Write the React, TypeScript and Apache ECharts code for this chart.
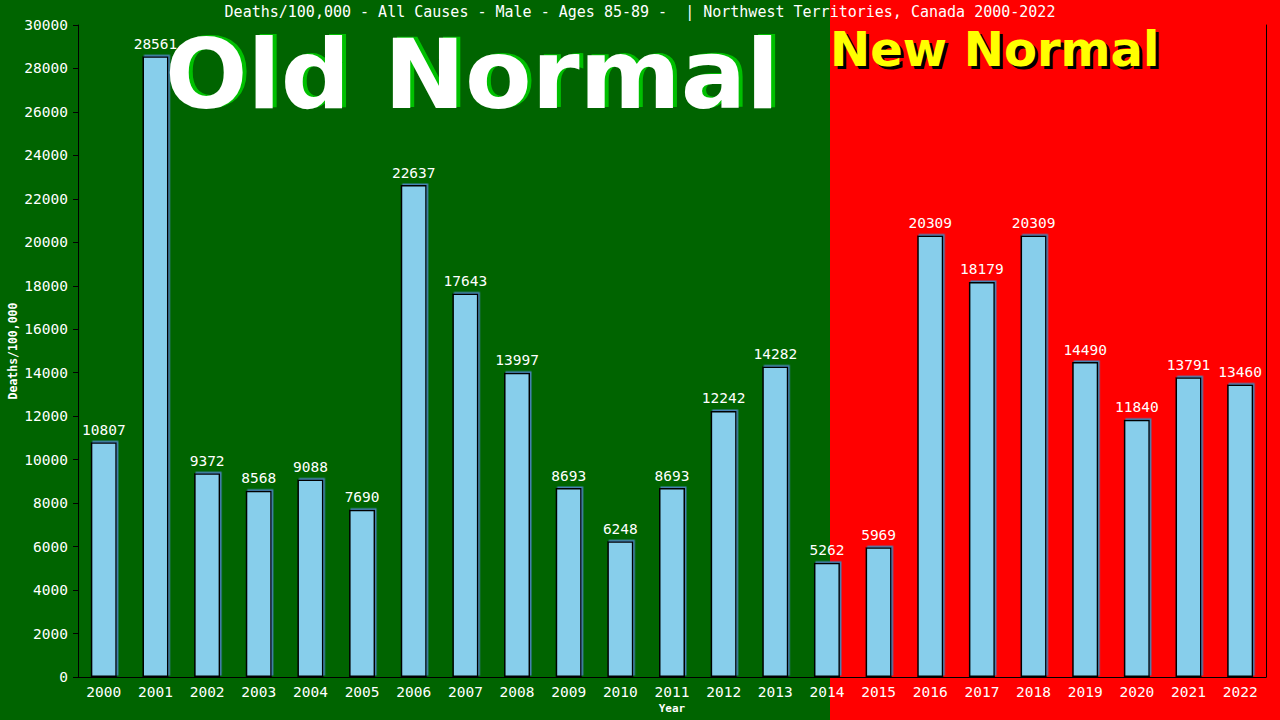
import React, { useEffect, useRef } from "react";
import * as echarts from "echarts";

const years = [
  "2000", "2001", "2002", "2003", "2004", "2005", "2006", "2007", "2008", "2009", "2010", "2011",
  "2012", "2013", "2014", "2015", "2016", "2017", "2018", "2019", "2020", "2021", "2022",
];
const deathsPer100k = [
  10807, 28561, 9372, 8568, 9088, 7690, 22637, 17643, 13997, 8693, 6248, 8693,
  12242, 14282, 5262, 5969, 20309, 18179, 20309, 14490, 11840, 13791, 13460,
];
const titleText =
  "Deaths/100,000 - All Causes - Male - Ages 85-89 -  | Northwest Territories, Canada 2000-2022";
const yAxisTitle = "Deaths/100,000";

const MONO = "'DejaVu Sans Mono', 'Liberation Mono', monospace";
const SANS = "'DejaVu Sans', Verdana, sans-serif";

export default function App() {
  const ref = useRef<HTMLDivElement>(null);

  useEffect(() => {
    if (!ref.current) return;
    const chart = echarts.init(ref.current, null, { renderer: "svg" });
    chart.setOption({
      animation: false,
      backgroundColor: "#006400",
      graphic: [
        { type: "rect", z: -10, left: 830, top: 0, shape: { width: 450, height: 720 }, style: { fill: "#ff0000" } },
        { type: "text", z: 100, left: "center", top: 4, style: { text: titleText, fill: "#ffffff", font: `15px ${MONO}` } },
        {
          type: "text",
          z: 100,
          x: 13,
          y: 351,
          rotation: Math.PI / 2,
          style: {
            text: yAxisTitle,
            fill: "#ffffff",
            font: `bold 11.5px ${MONO}`,
            align: "center",
            verticalAlign: "middle",
          },
        },
        { type: "text", z: 100, x: 169, y: 25, style: { text: "Old Normal", fill: "#00c000", font: `bold 97px ${SANS}` } },
        { type: "text", z: 101, x: 165, y: 26, style: { text: "Old Normal", fill: "#ffffff", font: `bold 97px ${SANS}` } },
        { type: "text", z: 100, x: 833, y: 28, style: { text: "New Normal", fill: "#000000", font: `bold 48px ${SANS}` } },
        { type: "text", z: 101, x: 830, y: 25, style: { text: "New Normal", fill: "#ffff00", font: `bold 48px ${SANS}` } },
      ],
      grid: { left: 78, right: 14, top: 25, bottom: 43, containLabel: false, outerBoundsMode: "none" },
      xAxis: {
        type: "category",
        data: years,
        name: "Year",
        nameLocation: "middle",
        nameGap: 26,
        nameMoveOverlap: false,
        nameTextStyle: { color: "#ffffff", fontFamily: MONO, fontWeight: "bold", fontSize: 11 },
        axisLine: { lineStyle: { color: "#000000", width: 1 } },
        axisTick: { show: false },
        axisLabel: { color: "#ffffff", fontFamily: MONO, fontSize: 14.5, margin: 7 },
      },
      yAxis: [
        {
          type: "value",
          min: 0,
          max: 30000,
          interval: 2000,
          axisLine: { show: true, lineStyle: { color: "#000000", width: 1 } },
          axisTick: { show: true, length: 5, lineStyle: { color: "#000000" } },
          axisLabel: {
            color: "#ffffff",
            fontFamily: MONO,
            fontSize: 14.5,
            margin: 10,
            formatter: (v: number) => String(v),
          },
          splitLine: { show: false },
        },
        {
          type: "value",
          min: 0,
          max: 30000,
          position: "right",
          axisLine: { show: true, lineStyle: { color: "#000000", width: 1 } },
          axisTick: { show: false },
          axisLabel: { show: false },
          splitLine: { show: false },
        },
      ],
      series: [
        {
          type: "bar",
          data: deathsPer100k,
          barWidth: 26,
          itemStyle: {
            color: "#87ceeb",
            borderColor: "#000000",
            borderWidth: 1.5,
            shadowColor: "#4682b4",
            shadowBlur: 0,
            shadowOffsetX: 1.5,
            shadowOffsetY: -1.5,
          },
          label: {
            show: true,
            position: "top",
            distance: 5,
            color: "#ffffff",
            fontFamily: MONO,
            fontSize: 14.5,
          },
        },
      ],
    });
    return () => chart.dispose();
  }, []);

  return <div ref={ref} style={{ width: 1280, height: 720, position: "fixed", left: 0, top: 0 }} />;
}
